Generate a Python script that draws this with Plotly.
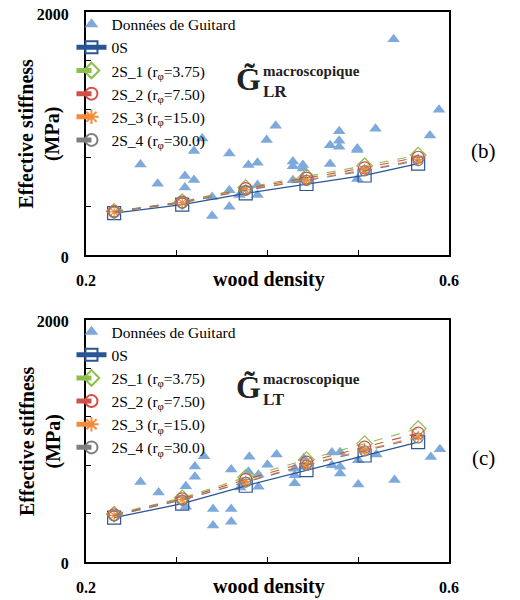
import plotly.graph_objects as go

# ---------------- data ----------------
model_density = [0.231, 0.306, 0.376, 0.443, 0.507, 0.566]

# G_LR (panel b)
lr_0S   = [345, 415, 508, 585, 655, 752]
lr_2S_1 = [360, 440, 555, 645, 735, 823]
lr_2S_2 = [358, 436, 547, 633, 718, 805]
lr_2S_3 = [356, 432, 537, 620, 700, 785]
lr_2S_4 = [355, 430, 533, 614, 693, 778]

guitard_lr_density = [0.260, 0.279, 0.309, 0.309, 0.319, 0.319, 0.328, 0.339, 0.339, 0.358,
                      0.358, 0.358, 0.369, 0.379, 0.389, 0.389, 0.389, 0.399, 0.409, 0.428,
                      0.428, 0.428, 0.439, 0.439, 0.439, 0.469, 0.469, 0.479, 0.479, 0.479,
                      0.499, 0.499, 0.499, 0.519, 0.539, 0.579, 0.589]
guitard_lr_value = [746, 587, 650, 557, 856, 617, 960, 478, 321, 835,
                    533, 398, 494, 741, 760, 576, 494, 947, 1065, 770,
                    730, 615, 741, 713, 630, 903, 749, 1018, 940, 891,
                    878, 864, 627, 1040, 1775, 983, 1196]

# G_LT (panel c)
lt_0S   = [366, 482, 630, 760, 880, 990]
lt_2S_1 = [395, 530, 700, 846, 978, 1103]
lt_2S_2 = [390, 522, 682, 825, 950, 1065]
lt_2S_3 = [385, 515, 665, 805, 925, 1035]
lt_2S_4 = [383, 512, 660, 800, 918, 1025]

guitard_lt_density = [0.260, 0.280, 0.310, 0.310, 0.320, 0.320, 0.330, 0.340, 0.340, 0.360,
                      0.360, 0.360, 0.370, 0.379, 0.380, 0.390, 0.390, 0.400, 0.410, 0.430,
                      0.430, 0.430, 0.440, 0.440, 0.471, 0.471, 0.480, 0.480, 0.480, 0.500,
                      0.500, 0.520, 0.540, 0.580, 0.590]
guitard_lt_value = [661, 575, 626, 456, 789, 705, 873, 437, 301, 764,
                    438, 333, 615, 746, 870, 722, 622, 803, 889, 771,
                    716, 650, 858, 785, 905, 799, 907, 788, 732, 840,
                    640, 889, 678, 868, 931]

series_names = ["0S", "2S_1 (r<sub>φ</sub>=3.75)", "2S_2 (r<sub>φ</sub>=7.50)",
                "2S_3 (r<sub>φ</sub>=15.0)", "2S_4 (r<sub>φ</sub>=30.0)"]
x_ticks = [0.2, 0.3, 0.4, 0.5, 0.6]
x_ticktext = ["0.2", "", "", "", "0.6"]
y_ticks = [0, 400, 800, 1200, 1600, 2000]
y_ticktext = ["0", "", "", "", "", "2000"]

# ---------------- styles ----------------
FONT = "Liberation Serif, Times New Roman, Times, serif"
tri_color = "#7EA9DC"
styles = [
    dict(color="#2A5595", symbol="square-open", size=13, dash="solid", width=1.3),
    dict(color="#8DBE4E", symbol="diamond-open", size=12, dash="dash", width=1.1),
    dict(color="#D0504A", symbol="circle-open", size=12, dash="dash", width=1.1),
    dict(color="#F58A3A", symbol="asterisk-open", size=10, dash="dash", width=1.1),
    dict(color="#7F7F7F", symbol="circle-open", size=10, dash="dash", width=1.1),
]

fig = go.Figure()

panels = [
    ("x", "y", "legend", guitard_lr_density, guitard_lr_value,
     [lr_0S, lr_2S_1, lr_2S_2, lr_2S_3, lr_2S_4]),
    ("x2", "y2", "legend2", guitard_lt_density, guitard_lt_value,
     [lt_0S, lt_2S_1, lt_2S_2, lt_2S_3, lt_2S_4]),
]

for xa, ya, lg, gd, gv, model in panels:
    fig.add_trace(go.Scatter(
        x=gd, y=gv, mode="markers", name="Données de Guitard",
        marker=dict(symbol="triangle-up", size=11, color=tri_color),
        xaxis=xa, yaxis=ya, legend=lg))
    for name, vals, st in zip(series_names, model, styles):
        fig.add_trace(go.Scatter(
            x=model_density, y=vals, mode="lines+markers", name=name,
            line=dict(color=st["color"], dash=st["dash"], width=st["width"]),
            marker=dict(symbol=st["symbol"], size=st["size"], color=st["color"],
                        line=dict(color=st["color"], width=1.2)),
            xaxis=xa, yaxis=ya, legend=lg))

axis_common = dict(showgrid=False, zeroline=False, showline=True, linecolor="black",
                   linewidth=2, mirror=True, ticks="inside", ticklen=5, tickwidth=1,
                   tickcolor="black", automargin=False, ticklabeloverflow="allow",
                   tickfont=dict(family=FONT, size=16, color="black", weight="bold"))

legend_common = dict(xanchor="left", yanchor="top", bgcolor="rgba(0,0,0,0)",
                     font=dict(family=FONT, size=15.5, color="black"), tracegroupgap=0,
                     itemsizing="constant")

# page body has an 8px margin: figure is sized so it sits inside the 520x600 window
fig.update_layout(
    width=512, height=592,
    margin=dict(l=78, r=71, t=4, b=38, autoexpand=False),
    paper_bgcolor="white", plot_bgcolor="white",
    font=dict(family=FONT, color="black"),
    xaxis=dict(domain=[0, 1], anchor="y", range=[0.2, 0.6], tickvals=x_ticks,
               ticktext=x_ticktext, ticklabelstandoff=10, **axis_common),
    yaxis=dict(domain=[0.558, 1], anchor="x", range=[0, 2000], tickvals=y_ticks,
               ticktext=y_ticktext, ticklabelstandoff=12, ticklabelshift=2,
               **axis_common),
    xaxis2=dict(domain=[0, 1], anchor="y2", range=[0.2, 0.6], tickvals=x_ticks,
                ticktext=x_ticktext, ticklabelstandoff=10, **axis_common),
    yaxis2=dict(domain=[0, 0.44], anchor="x2", range=[0, 2000], tickvals=y_ticks,
                ticktext=y_ticktext, ticklabelstandoff=12, ticklabelshift=1,
                **axis_common),
    legend=dict(x=-0.04, y=1.008, **legend_common),
    legend2=dict(x=-0.04, y=0.449, **legend_common),
)

annotations = []
for xa, ya, sub, lab in [("x", "y", "LR", "(b)"), ("x2", "y2", "LT", "(c)")]:
    xd, yd = xa + " domain", ya + " domain"
    annotations += [
        dict(text="<b>Effective stiffness</b><br><b>(MPa)</b>", xref=xd, yref=yd,
             x=0, y=0.5, xshift=-46, textangle=-90, showarrow=False,
             font=dict(family=FONT, size=20, color="black"), xanchor="center",
             yanchor="middle"),
        dict(text="<b>wood density</b>", xref=xd, yref=yd, x=0.505, y=0, yshift=-11,
             showarrow=False, font=dict(family=FONT, size=20, color="black"),
             xanchor="center", yanchor="top"),
        dict(text="<b>G\u0303</b>", xref=xd, yref=yd, x=0.487, y=0.725, showarrow=False,
             font=dict(family=FONT, size=32, color="#222"), xanchor="right",
             yanchor="middle"),
        dict(text="<b>macroscopique</b>", xref=xd, yref=yd, x=0.482, y=0.758,
             showarrow=False, font=dict(family=FONT, size=15, color="#222"),
             xanchor="left", yanchor="middle"),
        dict(text="<b>" + sub + "</b>", xref=xd, yref=yd, x=0.482, y=0.673,
             showarrow=False, font=dict(family=FONT, size=17, color="#222"),
             xanchor="left", yanchor="middle"),
        dict(text=lab, xref=xd, yref=yd, x=1.094, y=0.43, showarrow=False,
             font=dict(family=FONT, size=21, color="black"), xanchor="center",
             yanchor="middle"),
    ]
fig.update_layout(annotations=annotations)

fig.write_html("out.html")
